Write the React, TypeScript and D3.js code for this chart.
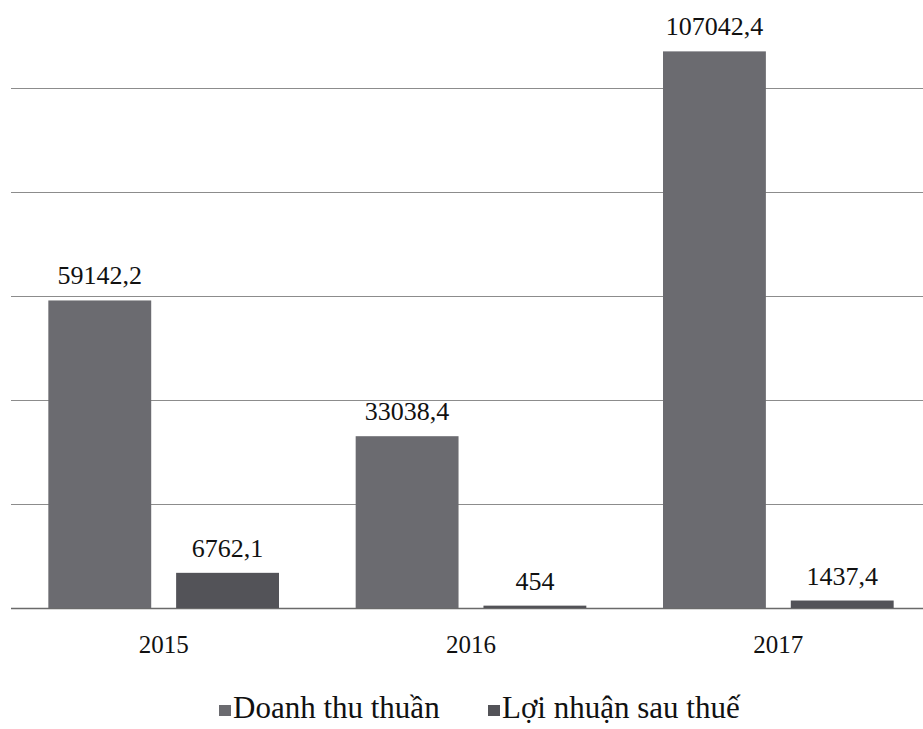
import { useRef, useEffect } from 'react';
import * as d3 from 'd3';

const years = ['2015', '2016', '2017'];
const seriesNames = ['Doanh thu thuần', 'Lợi nhuận sau thuế'];
const revenue = [59142.2, 33038.4, 107042.4];
const profit = [6762.1, 454, 1437.4];
const valueLabels = [
    ['59142,2', '33038,4', '107042,4'],
    ['6762,1', '454', '1437,4'],
];
const gridTicks = [0, 20000, 40000, 60000, 80000, 100000];

const colors = ['#6b6b70', '#535358'];
const font = "'Liberation Serif', 'Times New Roman', serif";

const App = () => {
    const ref = useRef<SVGSVGElement>(null);

    useEffect(() => {
        const svg = d3.select(ref.current);
        svg.selectAll('*').remove();

        const width = 923;
        const height = 729;

        const y = d3.scaleLinear()
            .domain([0, 100000])
            .range([608, 88]);

        const x0 = d3.scaleBand()
            .domain(years)
            .range([10, 932]);

        const x1 = d3.scaleBand()
            .domain(seriesNames)
            .range([0, x0.bandwidth()])
            .paddingInner(0.195)
            .paddingOuter(0.3);

        svg.append('rect')
            .attr('width', width)
            .attr('height', height)
            .attr('fill', '#fff');

        // gridlines
        svg.append('g')
            .selectAll('line')
            .data(gridTicks)
            .enter().append('line')
            .attr('x1', 11)
            .attr('x2', width)
            .attr('y1', d => Math.round(y(d)) + 0.5)
            .attr('y2', d => Math.round(y(d)) + 0.5)
            .attr('stroke', d => d === 0 ? '#6a6a6a' : '#8c8c8c')
            .attr('stroke-width', d => d === 0 ? 1.6 : 1.2);

        const data = years.map((yr, i) => ({
            year: yr,
            values: [revenue[i], profit[i]],
            labels: [valueLabels[0][i], valueLabels[1][i]],
        }));

        const group = svg.selectAll('.grp')
            .data(data)
            .enter().append('g')
            .attr('class', 'grp')
            .attr('transform', d => `translate(${x0(d.year)},0)`);

        group.selectAll('rect')
            .data(d => d.values.map((v, j) => ({ v, j, label: d.labels[j] })))
            .enter().append('rect')
            .attr('x', d => x1(seriesNames[d.j]))
            .attr('width', x1.bandwidth())
            .attr('y', d => y(d.v))
            .attr('height', d => y(0) - y(d.v))
            .attr('fill', d => colors[d.j]);

        group.selectAll('text')
            .data(d => d.values.map((v, j) => ({ v, j, label: d.labels[j] })))
            .enter().append('text')
            .attr('x', d => x1(seriesNames[d.j]) + x1.bandwidth() / 2)
            .attr('y', d => y(d.v) - 16)
            .attr('text-anchor', 'middle')
            .style('font-family', font)
            .style('font-size', '26px')
            .attr('fill', '#111')
            .text(d => d.label);

        // category labels
        svg.append('g')
            .selectAll('text')
            .data(years)
            .enter().append('text')
            .attr('x', d => x0(d) + x0.bandwidth() / 2)
            .attr('y', 653)
            .attr('text-anchor', 'middle')
            .style('font-family', font)
            .style('font-size', '25px')
            .attr('fill', '#111')
            .text(d => d);

        // legend
        const legendPos = [219, 488];
        const legend = svg.append('g');
        legend.selectAll('rect')
            .data(seriesNames)
            .enter().append('rect')
            .attr('x', (_, i) => legendPos[i])
            .attr('y', 705)
            .attr('width', 12)
            .attr('height', 11)
            .attr('fill', (_, i) => colors[i]);
        legend.selectAll('text')
            .data(seriesNames)
            .enter().append('text')
            .attr('x', (_, i) => legendPos[i] + 14)
            .attr('y', 718)
            .style('font-family', font)
            .style('font-size', '31px')
            .attr('fill', '#111')
            .text(d => d);
    }, []);

    return (
        <svg
            ref={ref}
            width={923}
            height={729}
            style={{ position: 'absolute', left: 0, top: 0, display: 'block' }}
        ></svg>
    );
};

export default App;
